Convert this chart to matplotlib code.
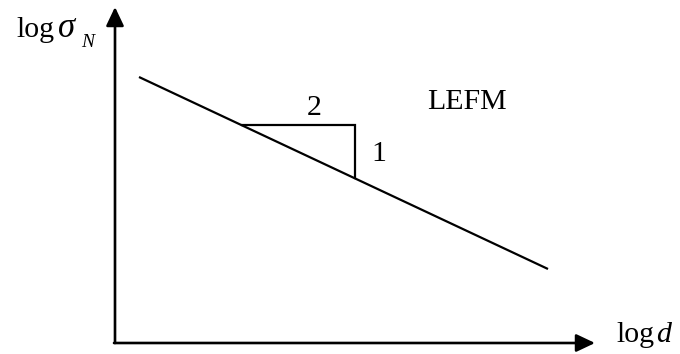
import matplotlib
matplotlib.use("Agg")
import matplotlib.pyplot as plt
import numpy as np

plt.rcParams["font.family"] = ["Liberation Serif", "DejaVu Serif"]

# Schematic size-effect line for LEFM (log-log coordinates, arbitrary units)
log_d = [24, 433]
log_sigma = [266, 74]

# Slope triangle: run drawn between these two log d positions
tri_d = [127, 240]
slope_run_label = "2"
slope_rise_label = "1"
regime_label = "LEFM"

fig = plt.figure(figsize=(6.8, 3.54), dpi=100)
ax = fig.add_axes([0, 0, 1, 1])
ax.set_xlim(-115, 565)
ax.set_ylim(-11, 343)
ax.axis("off")

# Size-effect line
ax.plot(log_d, log_sigma, color="black", lw=1.6, solid_capstyle="butt")

# Slope triangle built on the line
line_y = np.interp(tri_d, log_d, log_sigma)
ax.plot([tri_d[0], tri_d[1], tri_d[1]], [line_y[0], line_y[0], line_y[1]],
        color="black", lw=1.6, solid_joinstyle="miter")

# Axes with arrow heads
arrow = dict(arrowstyle="-|>,head_length=0.95,head_width=0.45",
             mutation_scale=12, lw=1.9, color="black", shrinkA=0, shrinkB=0)
ax.annotate("", xy=(0, 336), xytext=(0, 0), arrowprops=arrow)
ax.annotate("", xy=(480, 0), xytext=(-1, 0), arrowprops=arrow)

fs = 21.5
# Axis labels: upright "log", italic variable
ax.text(-99, 306, "log", fontsize=fs, ha="left", va="baseline")
ax.text(-57, 306, "σ", fontsize=25, style="italic", ha="left", va="baseline")
ax.text(-34, 296, "N", fontsize=14, style="italic", ha="left", va="baseline")
ax.text(501, 1, "log", fontsize=fs, ha="left", va="baseline")
ax.text(541, 1, "d", fontsize=fs, style="italic", ha="left", va="baseline")

# Regime and slope labels
ax.text(312, 234, regime_label, fontsize=fs, ha="left", va="baseline")
ax.text(199.5, 228, slope_run_label, fontsize=fs, ha="center", va="baseline")
ax.text(263.5, 182, slope_rise_label, fontsize=fs, ha="center", va="baseline")

fig.savefig("out.png", dpi=100)
